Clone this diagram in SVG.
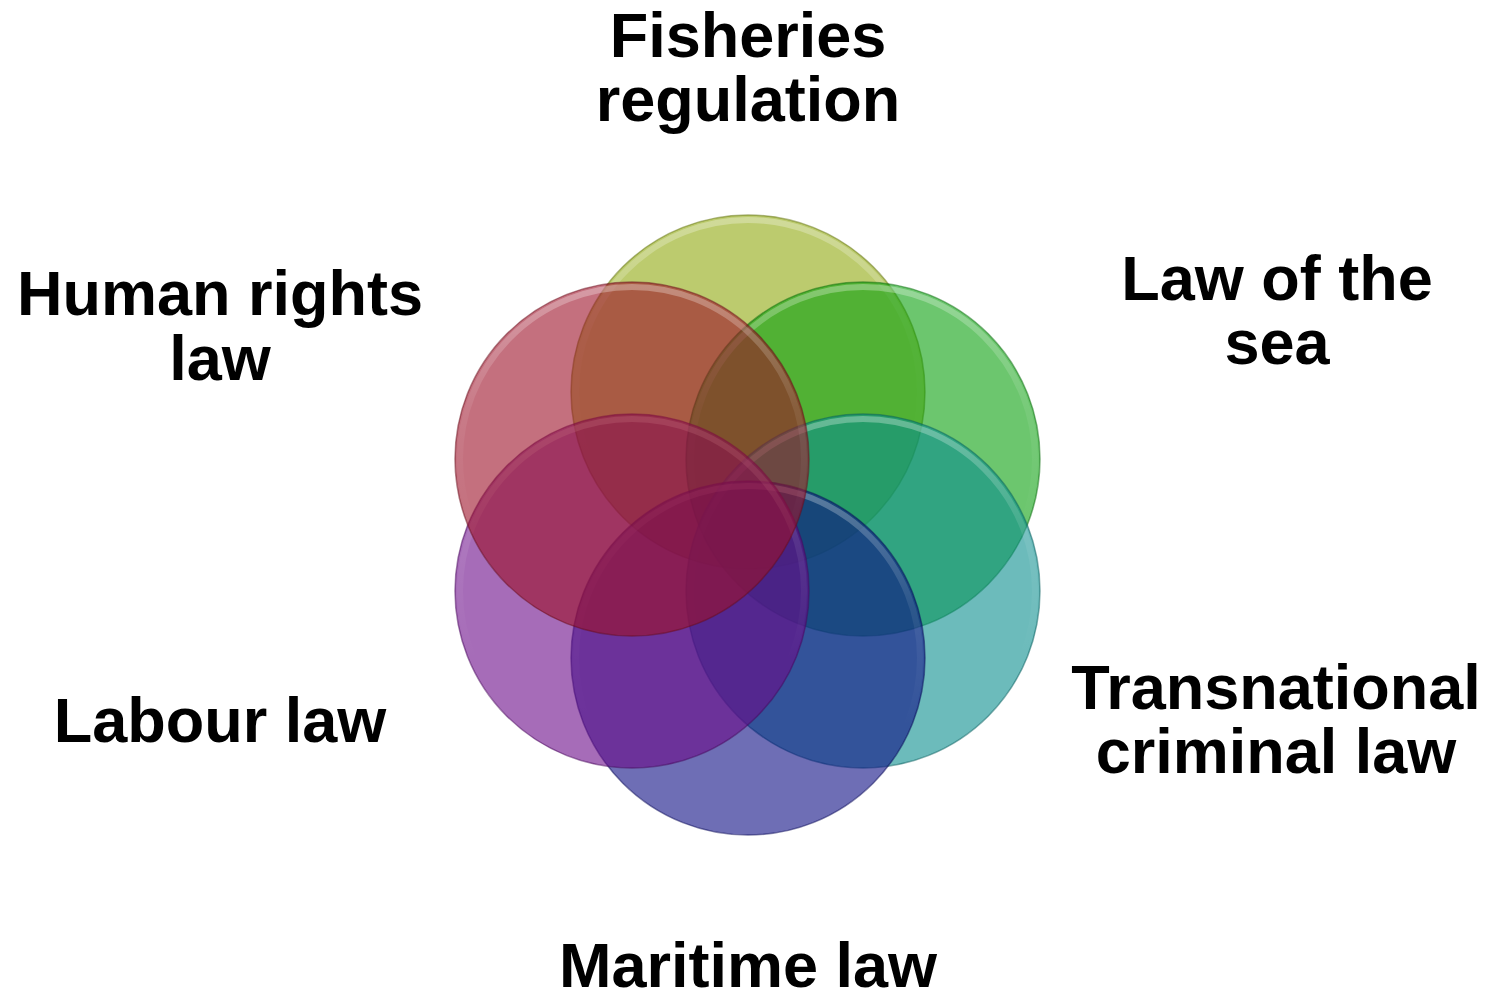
<svg xmlns="http://www.w3.org/2000/svg" width="1493" height="1001" viewBox="0 0 1493 1001">
  <defs>
    <linearGradient id="bevel" x1="0" y1="0" x2="0" y2="1">
      <stop offset="0" stop-color="#ffffff" stop-opacity="0.3"/>
      <stop offset="0.35" stop-color="#ffffff" stop-opacity="0.08"/>
      <stop offset="0.7" stop-color="#ffffff" stop-opacity="0"/>
    </linearGradient>
  </defs>
  <style>
    .c { fill-opacity: 0.6; stroke-width: 1.5; stroke-opacity: 0.5; }
    .hl { fill: none; stroke: url(#bevel); stroke-width: 6; }
    .t { font-family: "Liberation Sans", Arial, sans-serif; font-weight: bold; font-size: 63px; fill: #000000; text-anchor: middle; }
  </style>
  <rect width="1493" height="1001" fill="#ffffff"/>

  <g id="circles">
    <g id="fisheries-circle">
      <circle class="c" cx="748" cy="392" r="177" fill="#8fa80d" stroke="#5f7008"/>
      <circle class="hl" cx="748" cy="392" r="172"/>
    </g>
    <g id="lawsea-circle">
      <circle class="c" cx="863" cy="459" r="177" fill="#0aa00d" stroke="#066a08"/>
      <circle class="hl" cx="863" cy="459" r="172"/>
    </g>
    <g id="transnational-circle">
      <circle class="c" cx="863" cy="591" r="177" fill="#0a8e8e" stroke="#065e5e"/>
      <circle class="hl" cx="863" cy="591" r="172"/>
    </g>
    <g id="maritime-circle">
      <circle class="c" cx="748" cy="658" r="177" fill="#0d0d84" stroke="#080858"/>
      <circle class="hl" cx="748" cy="658" r="172"/>
    </g>
    <g id="labour-circle">
      <circle class="c" cx="632" cy="591" r="177" fill="#6b0a89" stroke="#47065b"/>
      <circle class="hl" cx="632" cy="591" r="172"/>
    </g>
    <g id="humanrights-circle">
      <circle class="c" cx="632" cy="459" r="177" fill="#9d1128" stroke="#690b1a"/>
      <circle class="hl" cx="632" cy="459" r="172"/>
    </g>
  </g>

  <g id="connectors"></g>

  <g id="fisheries-label">
    <text class="t" x="748" y="57">Fisheries</text>
    <text class="t" x="748" y="121">regulation</text>
  </g>
  <g id="lawsea-label">
    <text class="t" x="1277" y="300">Law of the</text>
    <text class="t" x="1277" y="364">sea</text>
  </g>
  <g id="transnational-label">
    <text class="t" x="1276" y="709">Transnational</text>
    <text class="t" x="1276" y="773">criminal law</text>
  </g>
  <g id="maritime-label">
    <text class="t" x="748" y="987">Maritime law</text>
  </g>
  <g id="labour-label">
    <text class="t" x="220" y="742">Labour law</text>
  </g>
  <g id="humanrights-label">
    <text class="t" x="220" y="315">Human rights</text>
    <text class="t" x="220" y="380">law</text>
  </g>
</svg>
